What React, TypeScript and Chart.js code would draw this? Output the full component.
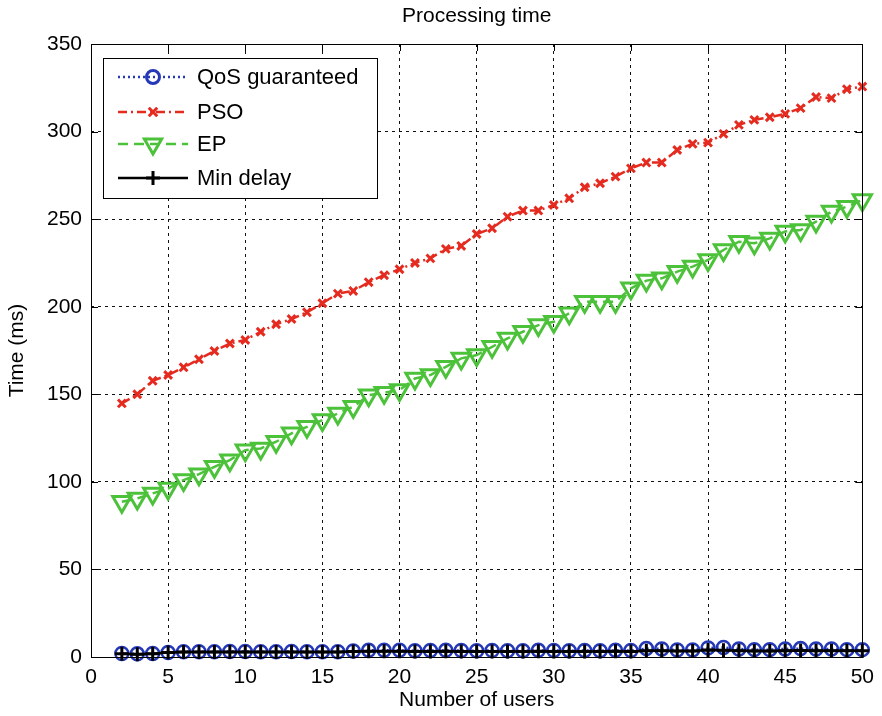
import React, { useEffect, useRef } from 'react';
import { Chart, registerables } from 'chart.js';

Chart.register(...registerables);

const CHART_TITLE = 'Processing time';
const X_TITLE = 'Number of users';
const Y_TITLE = 'Time (ms)';

const users = [2, 3, 4, 5, 6, 7, 8, 9, 10, 11, 12, 13, 14, 15, 16, 17, 18, 19, 20, 21, 22, 23, 24, 25, 26,
  27, 28, 29, 30, 31, 32, 33, 34, 35, 36, 37, 38, 39, 40, 41, 42, 43, 44, 45, 46, 47, 48, 49, 50];

const qosGuaranteed = [2.0, 1.8, 2.0, 2.6, 3.0, 3.0, 3.0, 3.1, 3.1, 3.0, 3.0, 3.1, 3.0, 3.0, 3.0, 3.4, 3.8, 3.8,
  3.8, 3.6, 3.7, 3.8, 3.7, 3.6, 3.7, 3.6, 3.6, 3.8, 3.7, 3.6, 3.7, 3.6, 3.8, 3.7, 4.8, 4.6, 4.0, 4.0, 5.2, 5.4,
  4.6, 4.2, 4.2, 4.6, 4.8, 4.6, 4.6, 4.2, 4.2];

const pso = [144.8, 150, 157.7, 161, 165.4, 170, 174.7, 179, 181, 185.7, 190, 193, 196.8, 202, 207.5, 209, 214,
  218, 221.4, 225, 227.6, 233, 234.7, 241.5, 244.8, 251.4, 254.9, 254.9, 258.1, 261.9, 268.2, 270.5, 274.3, 279,
  282.3, 282.3, 289.5, 293, 293.7, 298.7, 303.8, 306.7, 308.2, 310.1, 313.4, 319.7, 319.1, 324.2, 325.7];

const ep = [88.6, 90.5, 93.4, 96.2, 101, 104.4, 108.6, 112.4, 118.1, 119.1, 122.9, 127.7, 131.4, 135.3, 139,
  142.9, 149.5, 150.9, 152.4, 159, 161, 165.7, 170.5, 172.4, 177.1, 181.9, 185.7, 189.5, 191.4, 196.2, 202.9,
  202.9, 202.9, 210.5, 214.9, 216.2, 220, 222.9, 226.7, 232.4, 237.1, 236.2, 239, 242.9, 243.8, 248.6, 254.3,
  257.1, 261];

const minDelay = [1.8, 1.6, 1.8, 2.5, 2.8, 2.8, 2.8, 2.9, 2.9, 2.8, 2.8, 2.9, 2.8, 2.8, 2.8, 3.2, 3.3, 3.3, 3.3,
  3.2, 3.2, 3.3, 3.2, 3.2, 3.2, 3.2, 3.2, 3.3, 3.2, 3.2, 3.2, 3.2, 3.3, 3.2, 3.6, 3.5, 3.4, 3.4, 4.0, 3.8, 3.6,
  3.4, 3.4, 3.6, 3.7, 3.6, 3.6, 3.5, 3.5];

const seriesNames = ['QoS guaranteed', 'PSO', 'EP', 'Min delay'];

const FONT_FAMILY = '"Liberation Sans", Arial, Helvetica, sans-serif';

const BLUE = '#2438b8';
const RED = '#e52a1f';
const GREEN = '#4cc13a';
const BLACK = '#000000';

const toPoints = (ys: number[]) => ys.map((y, i) => ({ x: users[i], y }));

function drawMarker(ctx: CanvasRenderingContext2D, style: string, x: number, y: number, r: number) {
  ctx.beginPath();
  if (style === 'circle') {
    ctx.arc(x, y, r, 0, Math.PI * 2);
  } else if (style === 'crossRot') {
    const d = r * Math.SQRT1_2;
    ctx.moveTo(x - d, y - d); ctx.lineTo(x + d, y + d);
    ctx.moveTo(x + d, y - d); ctx.lineTo(x - d, y + d);
  } else if (style === 'triangleDown') {
    const h = r * Math.sqrt(3) / 2;
    ctx.moveTo(x, y + r);
    ctx.lineTo(x - h, y - r / 2);
    ctx.lineTo(x + h, y - r / 2);
    ctx.closePath();
  } else if (style === 'cross') {
    ctx.moveTo(x, y - r); ctx.lineTo(x, y + r);
    ctx.moveTo(x - r, y); ctx.lineTo(x + r, y);
  }
  ctx.stroke();
}

const legendItems = [
  { color: BLUE, dash: [2, 3], marker: 'circle', r: 6.5 },
  { color: RED, dash: [9, 4, 2, 4], marker: 'crossRot', r: 6 },
  { color: GREEN, dash: [10, 6], marker: 'triangleDown', r: 10 },
  { color: BLACK, dash: [], marker: 'cross', r: 7 },
];

const matlabPlugin = {
  id: 'matlabDecor',
  afterDraw(chart: any) {
    const { ctx, chartArea: a, scales } = chart;
    ctx.save();
    ctx.setLineDash([]);
    ctx.strokeStyle = '#000';
    ctx.lineWidth = 1;
    ctx.strokeRect(Math.round(a.left) + 0.5, Math.round(a.top) + 0.5,
      Math.round(a.right - a.left), Math.round(a.bottom - a.top));
    const L = 7;
    ctx.beginPath();
    scales.x.ticks.forEach((t: any) => {
      const px = Math.round(scales.x.getPixelForValue(t.value)) + 0.5;
      ctx.moveTo(px, a.bottom); ctx.lineTo(px, a.bottom - L);
      ctx.moveTo(px, a.top); ctx.lineTo(px, a.top + L);
    });
    scales.y.ticks.forEach((t: any) => {
      const py = Math.round(scales.y.getPixelForValue(t.value)) + 0.5;
      ctx.moveTo(a.left, py); ctx.lineTo(a.left + L, py);
      ctx.moveTo(a.right, py); ctx.lineTo(a.right - L, py);
    });
    ctx.stroke();

    ctx.fillStyle = '#000';
    ctx.font = `21px ${FONT_FAMILY}`;
    ctx.textAlign = 'center';
    ctx.textBaseline = 'middle';
    ctx.fillText(CHART_TITLE, (a.left + a.right) / 2, 16);

    const bx = 103, by = 58, bw = 274, bh = 140;
    ctx.fillStyle = '#fff';
    ctx.fillRect(bx, by, bw, bh);
    ctx.strokeStyle = '#000';
    ctx.lineWidth = 1;
    ctx.strokeRect(bx + 0.5, by + 0.5, bw, bh);
    const rows = [77, 112, 144, 178];
    ctx.font = `22px ${FONT_FAMILY}`;
    ctx.textAlign = 'left';
    legendItems.forEach((it, i) => {
      const y = rows[i];
      ctx.strokeStyle = it.color;
      ctx.lineWidth = 2.5;
      ctx.setLineDash(it.dash);
      ctx.beginPath();
      ctx.moveTo(118, y); ctx.lineTo(188, y);
      ctx.stroke();
      ctx.setLineDash([]);
      ctx.lineWidth = 3;
      drawMarker(ctx, it.marker, 153, y, it.r);
      ctx.fillStyle = '#000';
      ctx.fillText(seriesNames[i], 197, y + 1);
    });
    ctx.restore();
  },
};

export default function App() {
  const canvasRef = useRef<HTMLCanvasElement | null>(null);

  useEffect(() => {
    document.body.style.margin = '0';
    const canvas = canvasRef.current;
    if (!canvas) return;
    const tickFont = { family: FONT_FAMILY, size: 21 };
    const chart = new Chart(canvas, {
      type: 'line',
      data: {
        datasets: [
          {
            label: seriesNames[3], data: toPoints(minDelay), borderColor: BLACK, borderWidth: 2.5,
            pointStyle: 'cross', pointRadius: 7, pointBorderWidth: 3, pointBorderColor: BLACK,
            pointBackgroundColor: 'transparent', fill: false, tension: 0, order: 0, clip: false,
          },
          {
            label: seriesNames[2], data: toPoints(ep), borderColor: GREEN, borderWidth: 2.5, borderDash: [10, 6],
            pointStyle: 'triangle', pointRotation: 180, pointRadius: 10.5, pointBorderWidth: 3,
            pointBorderColor: GREEN, pointBackgroundColor: 'transparent', fill: false, tension: 0, order: 1, clip: false,
          },
          {
            label: seriesNames[1], data: toPoints(pso), borderColor: RED, borderWidth: 2.5, borderDash: [9, 4, 2, 4],
            pointStyle: 'crossRot', pointRadius: 5.5, pointBorderWidth: 3, pointBorderColor: RED,
            pointBackgroundColor: 'transparent', fill: false, tension: 0, order: 2, clip: false,
          },
          {
            label: seriesNames[0], data: toPoints(qosGuaranteed), borderColor: BLUE, borderWidth: 2.5, borderDash: [2, 3],
            pointStyle: 'circle', pointRadius: 6.5, pointBorderWidth: 2.5, pointBorderColor: BLUE,
            pointBackgroundColor: 'transparent', fill: false, tension: 0, order: 3, clip: false,
          },
        ],
      },
      options: {
        responsive: false,
        animation: false,
        devicePixelRatio: 1,
        layout: { padding: { top: 44, right: 15, bottom: 0, left: 0 } },
        plugins: {
          legend: { display: false },
          title: { display: false },
          tooltip: { enabled: false },
        },
        scales: {
          x: {
            type: 'linear', min: 0, max: 50,
            ticks: { stepSize: 5, padding: 8, font: tickFont, color: '#000', maxRotation: 0 },
            grid: { color: '#111', lineWidth: 1, drawTicks: false },
            border: { display: false, dash: [3, 4] },
            title: { display: true, text: X_TITLE, font: tickFont, color: '#000', padding: { top: 0, bottom: 3 } },
            afterFit: (s: any) => { s.height = 59; },
          },
          y: {
            type: 'linear', min: 0, max: 350,
            ticks: { stepSize: 50, padding: 9, font: tickFont, color: '#000' },
            grid: { color: '#111', lineWidth: 1, drawTicks: false },
            border: { display: false, dash: [3, 4] },
            title: { display: true, text: Y_TITLE, font: tickFont, color: '#000', padding: { top: 5, bottom: 0 } },
            afterFit: (s: any) => { s.width = 91; },
          },
        },
      },
      plugins: [matlabPlugin],
    } as any);
    return () => chart.destroy();
  }, []);

  return (
    <div style={{ width: 882, height: 716, background: '#fff' }}>
      <canvas ref={canvasRef} width={882} height={716} style={{ display: 'block' }} />
    </div>
  );
}
